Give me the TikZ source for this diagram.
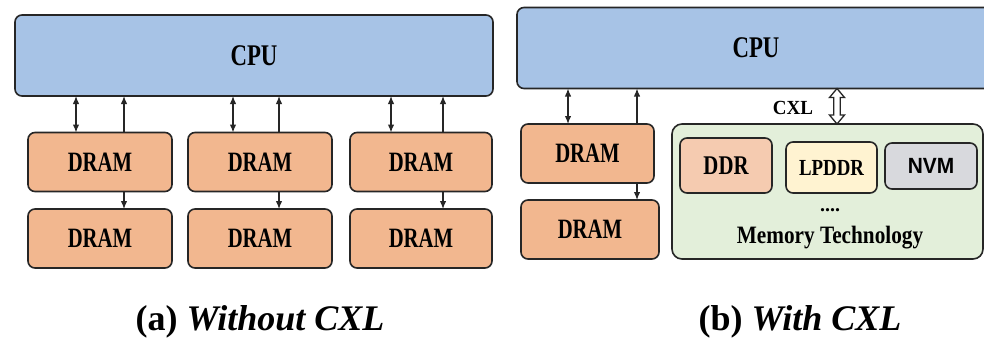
\documentclass[tikz,border=0pt]{standalone}
\usepackage{graphicx}
\usepackage{fontspec}
\setmainfont{Liberation Serif}
\newfontfamily\sansbf{Liberation Sans}
\usetikzlibrary{arrows.meta,calc}
\definecolor{linecol}{HTML}{262626}
\definecolor{cpucol}{HTML}{A7C3E6}
\definecolor{dramcol}{HTML}{F2B78F}
\definecolor{ddrcol}{HTML}{F5CBB0}
\definecolor{lpcol}{HTML}{FFF3D1}
\definecolor{nvmcol}{HTML}{D8D9DD}
\definecolor{memcol}{HTML}{E3EFDA}
\newcommand{\sqz}[2][0.75]{\scalebox{#1}[1]{#2}}
\newcommand{\dramtxt}{\sqz[0.74]{\fontsize{28}{28}\selectfont\bfseries DRAM}}
\newcommand{\cputxt}{\sqz[0.76]{\fontsize{30}{30}\selectfont\bfseries CPU}}
\begin{document}
\begin{tikzpicture}[x=1pt,y=-1pt,
  box/.style={draw=linecol, line width=1.6pt, rounded corners=7pt, inner sep=0pt, outer sep=0pt},
  cpubox/.style={box, fill=cpucol, minimum width=478pt, minimum height=81pt},
  drambox/.style={box, fill=dramcol, minimum height=59pt},
  arr/.style={line width=1.3pt, draw=linecol, -{Latex[length=8pt,width=6.5pt]}},
  darr/.style={line width=1.3pt, draw=linecol, {Latex[length=8pt,width=6.5pt]}-{Latex[length=8pt,width=6.5pt]}},
  captxt/.style={font=\fontsize{36}{36}\selectfont\bfseries, inner sep=0pt}
]
\useasboundingbox (0,0) rectangle (984,343);
\fill[white] (0,0) rectangle (984,343);
\clip (0,0) rectangle (984,343);

% ---------- (a) Without CXL ----------
\node[cpubox] (cpuL) at (254,55.5) {\cputxt};
\node[drambox, minimum width=144pt] (la1) at (100,162) {\dramtxt};
\node[drambox, minimum width=144pt] (lb1) at (260,162) {\dramtxt};
\node[drambox, minimum width=142pt] (lc1) at (421,162) {\dramtxt};
\node[drambox, minimum width=144pt] (la2) at (100,238.5) {\dramtxt};
\node[drambox, minimum width=144pt] (lb2) at (260,238.5) {\dramtxt};
\node[drambox, minimum width=142pt] (lc2) at (421,238.5) {\dramtxt};

\draw[darr] (cpuL.south -| 76,0) -- (la1.north -| 76,0);
\draw[arr] (la1.north -| 124,0) -- (cpuL.south -| 124,0);
\draw[arr] (la1.south -| 124,0) -- (la2.north -| 124,0);
\draw[darr] (cpuL.south -| 233,0) -- (lb1.north -| 233,0);
\draw[arr] (lb1.north -| 279,0) -- (cpuL.south -| 279,0);
\draw[arr] (lb1.south -| 279,0) -- (lb2.north -| 279,0);
\draw[darr] (cpuL.south -| 391,0) -- (lc1.north -| 391,0);
\draw[arr] (lc1.north -| 443,0) -- (cpuL.south -| 443,0);
\draw[arr] (lc1.south -| 443,0) -- (lc2.north -| 443,0);

\node[captxt] (capa) at (260,322) {(a) \textit{Without CXL}};

% ---------- (b) With CXL ----------
\node[cpubox] (cpuR) at (756,48) {\cputxt};
\node[drambox, minimum width=133pt] (r1) at (587.5,153.5) {\dramtxt};
\node[drambox, minimum width=138pt] (r2) at (590,229.5) {\dramtxt};
\draw[darr] (cpuR.south -| 568,0) -- (r1.north -| 568,0);
\draw[arr] (r1.north -| 637,0) -- (cpuR.south -| 637,0);
\draw[arr] (r1.south -| 637,0) -- (r2.north -| 637,0);

\node[box, fill=memcol, rounded corners=10pt, minimum width=311pt, minimum height=135pt] (mem) at (827.5,191.5) {};
\node[box, fill=ddrcol, minimum width=92pt, minimum height=55pt] (ddr) at (726,165.5)
  {\sqz[0.77]{\fontsize{27}{27}\selectfont\bfseries DDR}};
\node[box, fill=lpcol, minimum width=91pt, minimum height=51pt] (lpddr) at (831.5,167.5)
  {\sqz[0.82]{\fontsize{23}{23}\selectfont\bfseries LPDDR}};
\node[box, fill=nvmcol, minimum width=92pt, minimum height=46pt] (nvm) at (931,166)
  {\sqz[0.95]{\fontsize{22}{22}\selectfont\sansbf\bfseries NVM}};
\node[inner sep=0pt] (dots) at (830,210) {\fontsize{20}{20}\selectfont\bfseries ....};
\node[inner sep=0pt] (memt) at (830,238) {\sqz[0.85]{\fontsize{25}{25}\selectfont\bfseries Memory Technology}};

\node[inner sep=0pt] (cxl) at (793,108) {\sqz[0.95]{\fontsize{20}{20}\selectfont\bfseries CXL}};
\coordinate (cxt) at (cpuR.south -| 837,0);
\coordinate (cxb) at (mem.north -| 837,0);
\draw[draw=linecol, fill=white, line width=1.3pt, line join=miter]
  (cxt) -- ($(cxt)+(-7.5,9)$) -- ($(cxt)+(-3.2,9)$) -- ($(cxb)+(-3.2,-9)$) -- ($(cxb)+(-7.5,-9)$)
  -- (cxb) -- ($(cxb)+(7.5,-9)$) -- ($(cxb)+(3.2,-9)$) -- ($(cxt)+(3.2,9)$) -- ($(cxt)+(7.5,9)$) -- cycle;

\node[captxt] (capb) at (800,322) {(b) \textit{With CXL}};
\end{tikzpicture}
\end{document}
